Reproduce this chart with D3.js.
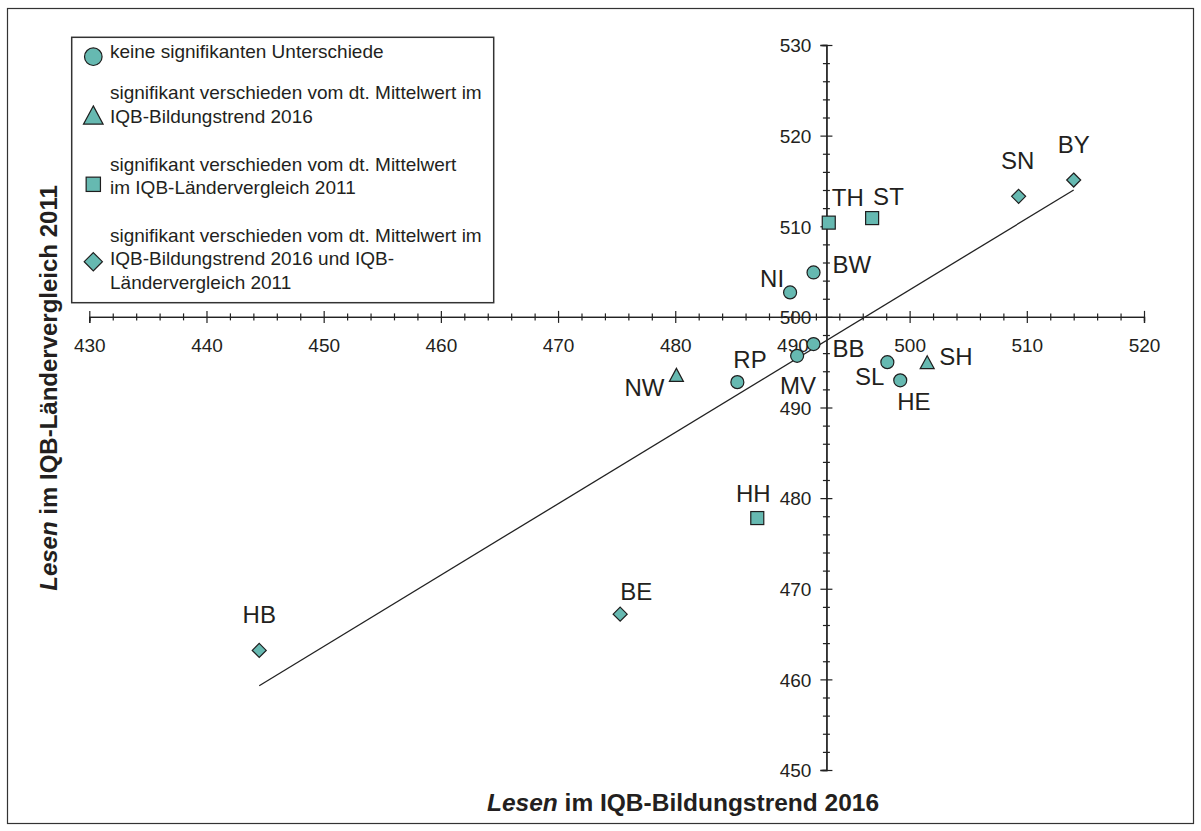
<!DOCTYPE html>
<html><head><meta charset="utf-8">
<script src="https://cdn.jsdelivr.net/npm/d3@7"></script>
<style>
html,body{margin:0;padding:0;background:#fff;}
svg{display:block;font-family:"Liberation Sans",Arial,sans-serif;}
</style></head>
<body>
<svg id="chart" width="1201" height="831"></svg>
<script>
// ---- data ----
const states = ["BY","SN","TH","ST","BW","NI","BB","MV","RP","SL","HE","SH","NW","HH","BE","HB"];
const lesen2016 = [514.0,509.3,493.1,496.8,491.8,489.8,491.8,490.4,485.3,498.1,499.2,501.5,480.1,487.0,475.3,444.5];
const lesen2011 = [515.1,513.3,510.4,510.9,504.9,502.7,497.0,495.7,492.8,495.0,493.0,495.0,493.6,477.8,467.2,463.2];
const groups    = ["both","both","lv","lv","none","none","none","none","none","none","none","bt","bt","lv","both","both"];
const regX = [444.5, 514.0];
const regY = [459.3, 514.0];
const xTicks = [430,440,450,460,470,480,490,500,510,520];
const yTicks = [450,460,470,480,490,500,510,520,530];
const legendLabels = [
  ["keine signifikanten Unterschiede"],
  ["signifikant verschieden vom dt. Mittelwert im","IQB-Bildungstrend 2016"],
  ["signifikant verschieden vom dt. Mittelwert","im IQB-Ländervergleich 2011"],
  ["signifikant verschieden vom dt. Mittelwert im","IQB-Bildungstrend 2016 und IQB-","Ländervergleich 2011"]
];
const legendGroups = ["none","bt","lv","both"];
const xTitle = ["Lesen"," im IQB-Bildungstrend 2016"];
const yTitle = ["Lesen"," im IQB-Ländervergleich 2011"];
const xCross = 500;   // x-axis drawn at 2011 value 500
const yCross = 492.9; // y-axis drawn at 2016 value

// label placement (anchor, dx, dy) relative to the marker
const labelPos = {
  BY:["middle",0,-27], SN:["middle",-1,-27], TH:["start",3,-17], ST:["start",1,-13],
  BW:["start",19,1], NI:["end",-6,-5], BB:["start",19,13], MV:["middle",1,38],
  RP:["start",-4,-14], NW:["end",-12,21], SL:["end",-3,23], HE:["start",-3,30],
  SH:["start",12,3], HH:["middle",-4,-16], BE:["start",0,-14], HB:["middle",0,-27]
};

const FILL = "#66b9b1", STROKE = "#1e1e1e", TXT = "#231f20";
const svg = d3.select("#chart");

const x = d3.scaleLinear().domain([430,520]).range([89.3,1144]);
const y = d3.scaleLinear().domain([450,530]).range([770,45]);

// outer frame
svg.append("rect").attr("x",7.5).attr("y",8.5).attr("width",1186).attr("height",815)
  .attr("fill","none").attr("stroke","#333").attr("stroke-width",1.2);

function minorVals(dom){ const v=[]; for(let t=dom[0]; t<=dom[1]+1e-9; t+=2){ if(t%10!==0) v.push(t);} return v; }

// x axis
const gx = svg.append("g").attr("transform",`translate(0,${y(xCross)})`);
gx.append("g").call(d3.axisBottom(x).tickValues(minorVals([430,520])).tickFormat("").tickSizeOuter(0).tickSize(4))
  .call(g=>g.selectAll(".tick line").attr("y1",-3.5).attr("y2",3.5));
gx.append("g").call(d3.axisBottom(x).tickValues(xTicks).tickSizeOuter(0).tickSize(6).tickFormat(d3.format("d")))
  .call(g=>g.selectAll(".tick line").attr("y1",-6).attr("y2",6))
  .call(g=>g.selectAll(".tick text").attr("y",35).attr("dy",0).attr("font-size",19).attr("fill",TXT).attr("font-family","Liberation Sans, Arial, sans-serif"));
gx.selectAll("path.domain").attr("stroke","#222").attr("stroke-width",1.3);
gx.selectAll(".tick line").attr("stroke","#222").attr("stroke-width",1.2);

// y axis
const gy = svg.append("g").attr("transform",`translate(${x(yCross)},0)`);
gy.append("g").call(d3.axisLeft(y).tickValues(minorVals([450,530])).tickFormat("").tickSizeOuter(0).tickSize(4))
  .call(g=>g.selectAll(".tick line").attr("x1",-3.5).attr("x2",3.5));
gy.append("g").call(d3.axisLeft(y).tickValues(yTicks).tickSizeOuter(0).tickSize(6).tickFormat(d3.format("d")))
  .call(g=>g.selectAll(".tick line").attr("x1",-6).attr("x2",6))
  .call(g=>g.selectAll(".tick text").attr("x",-15).attr("dy","0.36em").attr("font-size",19).attr("fill",TXT).attr("font-family","Liberation Sans, Arial, sans-serif"));
gy.selectAll("path.domain").attr("stroke","#222").attr("stroke-width",1.3);
gy.selectAll(".tick line").attr("stroke","#222").attr("stroke-width",1.2);

// regression line
svg.append("line").attr("x1",x(regX[0])).attr("y1",y(regY[0])).attr("x2",x(regX[1])).attr("y2",y(regY[1]))
  .attr("stroke","#222").attr("stroke-width",1.3);

// marker shapes
function marker(g, type, s){
  if(type==="none"){
    g.append("circle").attr("r",6.5*s).attr("fill",FILL).attr("stroke",STROKE).attr("stroke-width",1.2);
  } else if(type==="lv"){
    const h=6.5*s;
    g.append("rect").attr("x",-h).attr("y",-h).attr("width",2*h).attr("height",2*h)
      .attr("fill",FILL).attr("stroke",STROKE).attr("stroke-width",1.2);
  } else if(type==="bt"){
    const w=7*s, h=6.5*s;
    g.append("path").attr("d",`M0,${-h}L${w},${h}L${-w},${h}Z`)
      .attr("fill",FILL).attr("stroke",STROKE).attr("stroke-width",1.2);
  } else {
    const r=7*s;
    g.append("path").attr("d",`M0,${-r}L${r},0L0,${r}L${-r},0Z`)
      .attr("fill",FILL).attr("stroke",STROKE).attr("stroke-width",1.2);
  }
}

// points
states.forEach((st,i)=>{
  const g = svg.append("g").attr("transform",`translate(${x(lesen2016[i])},${y(lesen2011[i])})`);
  marker(g, groups[i], 1);
  const lp = labelPos[st];
  g.append("text").attr("x",lp[1]).attr("y",lp[2]).attr("text-anchor",lp[0])
    .attr("font-size",24).attr("fill",TXT).text(st);
});

// legend
const lg = svg.append("g");
lg.append("rect").attr("x",71.7).attr("y",37.3).attr("width",422).attr("height",265.4)
  .attr("fill","#fff").attr("stroke","#333").attr("stroke-width",1.5);
const legendMarkY = [56.7,115,184.3,261.7];
const legendTextY = [[58.3],[99,123],[171,194],[241.5,265,288.5]];
const legendScale = [1.35,1.4,1.1,1.3];
legendLabels.forEach((lines,i)=>{
  const g = lg.append("g").attr("transform",`translate(93.3,${legendMarkY[i]})`);
  marker(g, legendGroups[i], legendScale[i]);
  lines.forEach((t,j)=>{
    lg.append("text").attr("x",110).attr("y",legendTextY[i][j]).attr("font-size",19).attr("fill",TXT).text(t);
  });
});

// axis titles
const xt = svg.append("text").attr("x",683).attr("y",811).attr("text-anchor","middle")
  .attr("font-size",24.5).attr("font-weight","bold").attr("fill",TXT);
xt.append("tspan").attr("font-style","italic").text(xTitle[0]);
xt.append("tspan").text(xTitle[1]);
const yt = svg.append("text").attr("transform","translate(57,388) rotate(-90)").attr("text-anchor","middle")
  .attr("font-size",24).attr("font-weight","bold").attr("fill",TXT);
yt.append("tspan").attr("font-style","italic").text(yTitle[0]);
yt.append("tspan").text(yTitle[1]);
</script>
</body></html>
